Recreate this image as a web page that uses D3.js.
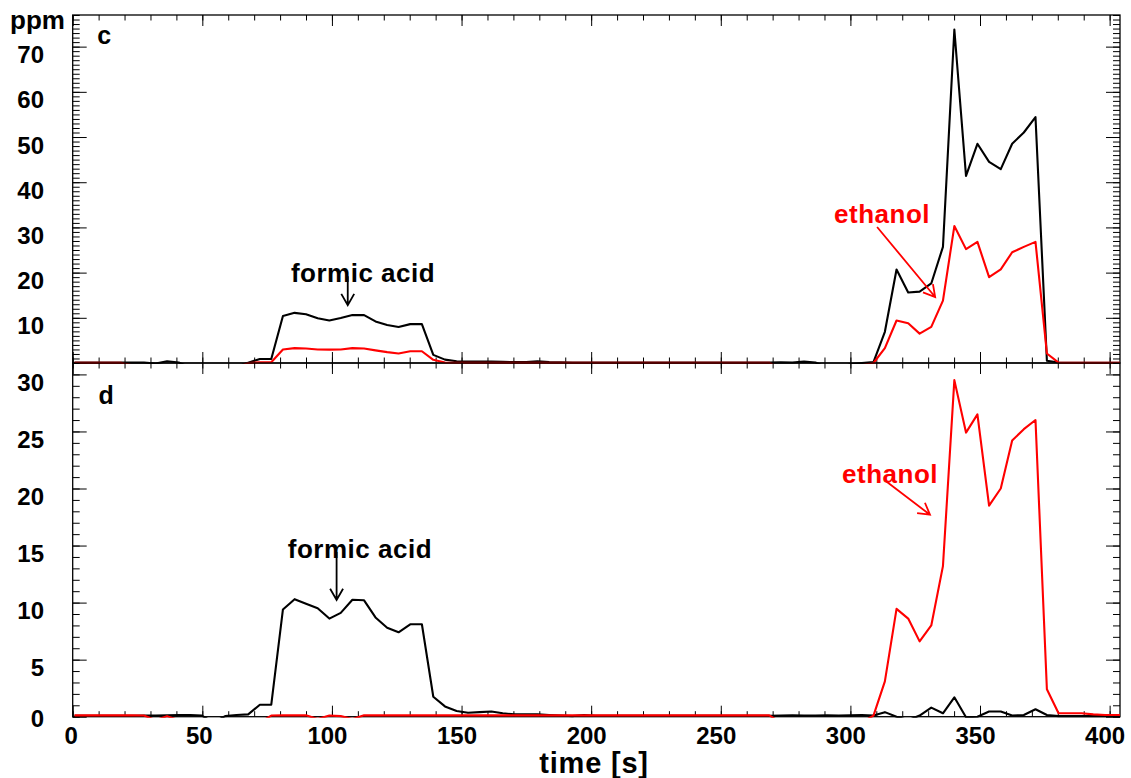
<!DOCTYPE html>
<html>
<head>
<meta charset="utf-8">
<script src="https://cdn.jsdelivr.net/npm/d3@7"></script>
<style>
  body { margin: 0; background: #fff; }
  svg text { font-family: "Liberation Sans", Arial, Helvetica, sans-serif; font-weight: bold; fill: #000; }
</style>
</head>
<body>
<svg id="chart" width="1131" height="778"></svg>
<script>
// Sample times [s]
const times = [0.7, 5.2, 9.6, 14.1, 18.6, 23.0, 27.5, 32.0, 36.4, 40.9,
  45.4, 49.8, 54.3, 58.8, 63.2, 67.7, 72.2, 76.6, 81.1, 85.6,
  90.0, 94.5, 99.0, 103.4, 107.9, 112.4, 116.8, 121.3, 125.7, 130.2,
  134.7, 139.1, 143.6, 148.1, 152.5, 157.0, 161.5, 165.9, 170.4, 174.9,
  179.3, 183.8, 188.3, 192.7, 197.2, 201.7, 206.1, 210.6, 215.1, 219.5,
  224.0, 228.5, 232.9, 237.4, 241.9, 246.3, 250.8, 255.3, 259.7, 264.2,
  268.7, 273.1, 277.6, 282.1, 286.5, 291.0, 295.5, 299.9, 304.4, 308.9,
  313.3, 317.8, 322.3, 326.7, 331.2, 335.7, 340.1, 344.6, 349.0, 353.5,
  358.0, 362.4, 366.9, 371.4, 375.8, 380.3, 384.8, 389.2, 393.7, 398.2,
  402.6, 407.1];

// Panel c, black trace [ppm]
const cBlack = [0.1, 0.1, 0.1, 0.1, 0.1, 0.1, 0.1, -0.1, 0.4, 0.1,
  -1.0, -1.0, -1.0, -1.0, -0.8, 0.05, 0.9, 0.9, 10.4, 11.1,
  10.8, 9.9, 9.4, 9.95, 10.6, 10.6, 9.2, 8.4, 7.95, 8.6,
  8.6, 1.8, 0.75, 0.4, 0.3, 0.3, 0.3, 0.25, 0.2, 0.2,
  0.35, 0.2, 0.15, 0.1, 0.1, 0.12, 0.1, 0.1, 0.1, 0.12,
  0.1, 0.1, 0.1, 0.12, 0.1, 0.1, 0.1, 0.12, 0.1, 0.1,
  0.1, 0.15, 0.1, 0.3, 0.1, -1.0, -1.0, -0.3, 0.0, 0.2,
  6.9, 20.7, 15.6, 15.8, 17.6, 25.7, 73.8, 41.4, 48.5, 44.5,
  42.9, 48.5, 51.0, 54.4, 0.5, 0.1, 0.02, 0.02, 0.02, 0.02,
  0.02, 0.02];

// Panel c, red trace (ethanol) [ppm]
const cRed = [0.05, 0.05, 0.05, 0.05, 0.05, -0.5, -1.0, -1.0, -1.0, -1.0,
  -1.0, -1.0, -1.0, -1.0, -1.0, 0.0, 0.15, 0.15, 3.0, 3.3,
  3.2, 3.0, 2.95, 3.0, 3.3, 3.2, 2.8, 2.4, 2.1, 2.6,
  2.6, 0.7, 0.1, 0.05, 0.05, 0.05, 0.05, 0.05, 0.05, 0.05,
  0.05, 0.05, 0.05, 0.05, 0.05, 0.05, 0.05, 0.05, 0.05, 0.05,
  0.05, 0.05, 0.05, 0.05, 0.05, 0.05, 0.05, 0.05, 0.05, 0.05,
  0.05, -1.0, -1.0, -1.0, -1.0, -1.0, -1.0, -1.0, -0.5, 0.0,
  3.3, 9.4, 8.8, 6.5, 8.0, 13.8, 30.3, 25.2, 26.8, 19.0,
  20.7, 24.5, 25.7, 26.8, 2.1, 0.1, 0.05, 0.05, 0.05, 0.05,
  0.05, 0.05];

// Panel d, black trace (formic acid) [ppm]
const dBlack = [0.08, 0.08, 0.08, 0.08, 0.08, 0.08, 0.1, 0.1, 0.12, 0.15,
  0.15, 0.1, -0.5, 0.05, 0.15, 0.2, 1.05, 1.05, 9.4, 10.3,
  9.9, 9.5, 8.6, 9.1, 10.25, 10.2, 8.7, 7.8, 7.4, 8.1,
  8.1, 1.75, 0.9, 0.5, 0.35, 0.4, 0.45, 0.3, 0.2, 0.2,
  0.2, 0.15, 0.1, 0.05, 0.15, 0.08, 0.08, 0.08, 0.08, 0.08,
  0.08, 0.08, 0.08, 0.08, 0.08, 0.08, 0.08, 0.08, 0.08, 0.08,
  0.08, 0.1, 0.12, 0.1, 0.1, 0.12, 0.1, 0.12, 0.15, 0.1,
  0.4, 0.0, -0.3, 0.1, 0.8, 0.3, 1.7, -0.05, 0.0, 0.45,
  0.45, 0.1, 0.15, 0.65, 0.15, 0.05, 0.05, 0.05, 0.05, 0.05,
  0.05, 0.05];

// Panel d, red trace (ethanol) [ppm]
const dRed = [0.12, 0.12, 0.12, 0.12, 0.12, 0.12, 0.1, -0.3, 0.05, -0.3,
  -0.5, -0.5, -0.5, -0.5, -0.5, -0.5, -0.5, 0.1, 0.12, 0.12,
  0.12, -0.2, 0.1, 0.05, -0.2, 0.12, 0.12, 0.12, 0.12, 0.12,
  0.12, 0.12, 0.12, 0.12, 0.12, 0.12, 0.12, 0.12, 0.12, 0.12,
  0.12, 0.12, 0.12, 0.12, 0.12, 0.12, 0.12, 0.12, 0.12, 0.12,
  0.12, 0.12, 0.12, 0.12, 0.12, 0.12, 0.12, 0.12, 0.12, 0.12,
  0.12, -0.5, -0.5, -0.5, -0.5, -0.5, -0.5, -0.5, -0.5, 0.1,
  3.1, 9.45, 8.6, 6.6, 8.0, 13.2, 29.5, 24.9, 26.5, 18.5,
  20.0, 24.2, 25.2, 26.0, 2.4, 0.3, 0.3, 0.3, 0.2, 0.15,
  0.15, 0.15];

// Tick labels
const xTickLabels = [0, 50, 100, 150, 200, 250, 300, 350, 400];
const cTickLabels = [10, 20, 30, 40, 50, 60, 70];
const dTickLabels = [0, 5, 10, 15, 20, 25, 30];

// ---- layout ----
const left = 72.7, right = 1120;
const cTop = 15, mid = 363, dBottom = 716.7;

const x = d3.scaleLinear().domain([0, 404]).range([left, right]);
const yC = d3.scaleLinear().domain([0, 77]).range([mid, cTop]);
const yD = d3.scaleLinear().domain([0, 31]).range([dBottom, mid]);

const svg = d3.select("#chart");
const defs = svg.append("defs");

const panels = [
  { key: "c", y: yC, top: cTop, bottom: mid, black: cBlack, red: cRed,
    yMinor: d3.range(0, 77.01, 1), yMajor: d3.range(0, 77.01, 10) },
  { key: "d", y: yD, top: mid, bottom: dBottom, black: dBlack, red: dRed,
    yMinor: d3.range(0, 31.01, 1), yMajor: d3.range(0, 31.01, 5) }
];

const xMinor = d3.range(0, 404, 10);
const xMajor = d3.range(0, 404, 50);
const xMinorLen = 5.5, xMajorLen = 11, yMinorLen = 7, yMajorLen = 14;

function strip(g) { g.select(".domain").remove(); g.selectAll("text").remove(); }

panels.forEach(p => {
  const g = svg.append("g").attr("class", "panel-" + p.key);

  // clip to the plotting window
  defs.append("clipPath").attr("id", "clip-" + p.key)
    .append("rect")
    .attr("x", left).attr("y", p.top)
    .attr("width", right - left).attr("height", p.bottom - p.top + 1);

  // inward ticks on all four sides
  const tickLayer = g.append("g").attr("stroke-width", 1);
  [[xMinor, xMinorLen], [xMajor, xMajorLen]].forEach(([vals, len]) => {
    tickLayer.append("g").attr("transform", `translate(0,${p.bottom})`)
      .call(d3.axisBottom(x).tickValues(vals).tickSize(-len).tickFormat("")).call(strip);
    tickLayer.append("g").attr("transform", `translate(0,${p.top})`)
      .call(d3.axisTop(x).tickValues(vals).tickSize(-len).tickFormat("")).call(strip);
  });
  [[p.yMinor, yMinorLen], [p.yMajor, yMajorLen]].forEach(([vals, len]) => {
    tickLayer.append("g").attr("transform", `translate(${left},0)`)
      .call(d3.axisLeft(p.y).tickValues(vals).tickSize(-len).tickFormat("")).call(strip);
    tickLayer.append("g").attr("transform", `translate(${right},0)`)
      .call(d3.axisRight(p.y).tickValues(vals).tickSize(-len).tickFormat("")).call(strip);
  });

  // frame
  g.append("rect")
    .attr("x", left).attr("y", p.top)
    .attr("width", right - left).attr("height", p.bottom - p.top)
    .attr("fill", "none").attr("stroke", "#000").attr("stroke-width", 1.3);

  // traces
  const line = d3.line().x((d, i) => x(times[i])).y(d => p.y(d));
  const traces = g.append("g").attr("clip-path", `url(#clip-${p.key})`);
  traces.append("path").datum(p.black)
    .attr("d", line).attr("fill", "none").attr("stroke", "#000")
    .attr("stroke-width", 2.1).attr("stroke-linejoin", "round");
  traces.append("path").datum(p.red)
    .attr("d", line).attr("fill", "none").attr("stroke", "#ff0000")
    .attr("stroke-width", 2.1).attr("stroke-linejoin", "round");
});

// y tick labels
const labelSize = 24;
svg.append("g").selectAll("text").data(cTickLabels).join("text")
  .attr("x", 44).attr("y", d => yC(d) + 8 + 8.6)
  .attr("text-anchor", "end").attr("font-size", labelSize)
  .text(d => d);
svg.append("g").selectAll("text").data(dTickLabels).join("text")
  .attr("x", 44).attr("y", d => yD(d) + (d === 0 ? 1.5 : 8) + 8.6)
  .attr("text-anchor", "end").attr("font-size", labelSize)
  .text(d => d);

// x tick labels (centred slightly left of each tick)
svg.append("g").selectAll("text").data(xTickLabels).join("text")
  .attr("x", d => x(d) - 1.5 * String(d).length).attr("y", dBottom + 27)
  .attr("text-anchor", "middle").attr("font-size", labelSize)
  .text(d => d);

// axis titles
svg.append("text").attr("x", 594).attr("y", 773)
  .attr("text-anchor", "middle").attr("font-size", 29)
  .attr("letter-spacing", 0.8).text("time [s]");
svg.append("text").attr("x", 10).attr("y", 29)
  .attr("font-size", 26).text("ppm");

// panel letters
svg.append("text").attr("x", x(9.5)).attr("y", yC(70.5)).attr("font-size", 25).text("c");
svg.append("text").attr("x", x(10)).attr("y", yD(27.4)).attr("font-size", 25).text("d");

// annotations
function arrow(color, x1, y1, x2, y2) {
  const ang = Math.atan2(y2 - y1, x2 - x1), L = 13, a = 0.52;
  const p1 = [x2 - L * Math.cos(ang - a), y2 - L * Math.sin(ang - a)];
  const p2 = [x2 - L * Math.cos(ang + a), y2 - L * Math.sin(ang + a)];
  const path = d3.path();
  path.moveTo(x1, y1); path.lineTo(x2, y2);
  path.moveTo(p1[0], p1[1]); path.lineTo(x2, y2); path.lineTo(p2[0], p2[1]);
  svg.append("path").attr("d", path.toString())
    .attr("fill", "none").attr("stroke", color).attr("stroke-width", 1.8);
}
function label(color, tx, ty, text) {
  svg.append("text").attr("x", tx).attr("y", ty)
    .attr("text-anchor", "middle").attr("font-size", 26)
    .attr("letter-spacing", 0.5).style("fill", color).text(text);
}

label("#000", x(112), yC(18.0), "formic acid");
arrow("#000", x(106.1), yC(19.2), x(106.1), yC(12.8));

label("#ff0000", x(312.2), yC(31.0), "ethanol");
arrow("#ff0000", x(310.3), yC(30.1), x(332.7), yC(14.6));

label("#000", x(110.8), yD(13.88), "formic acid");
arrow("#000", x(101.8), yD(14.43), x(101.8), yD(10.23));

label("#ff0000", x(315.3), yD(20.46), "ethanol");
arrow("#ff0000", x(314), yD(20.6), x(330.7), yD(17.7));
</script>
</body>
</html>
